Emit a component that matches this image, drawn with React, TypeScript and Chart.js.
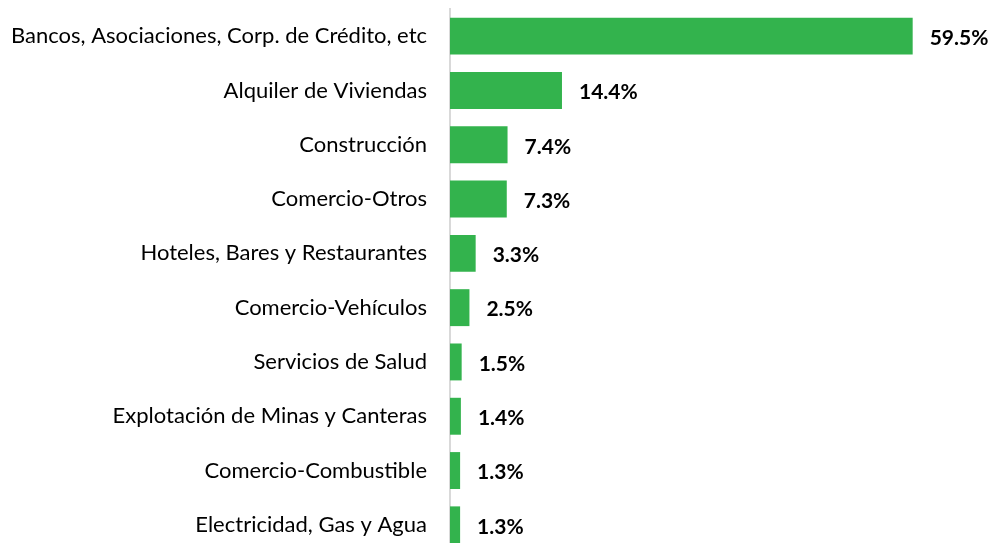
import React, { useEffect, useRef } from "react";
import { Chart, registerables } from "chart.js";

Chart.register(...registerables);

const categories = [
  "Bancos, Asociaciones, Corp. de Crédito, etc",
  "Alquiler de Viviendas",
  "Construcción",
  "Comercio-Otros",
  "Hoteles, Bares y Restaurantes",
  "Comercio-Vehículos",
  "Servicios de Salud",
  "Explotación de Minas y Canteras",
  "Comercio-Combustible",
  "Electricidad, Gas y Agua",
];
const values = [59.5, 14.4, 7.4, 7.3, 3.3, 2.5, 1.5, 1.4, 1.3, 1.3];
const valueLabels = ["59.5%", "14.4%", "7.4%", "7.3%", "3.3%", "2.5%", "1.5%", "1.4%", "1.3%", "1.3%"];

const FONT = "Lato, 'Open Sans', sans-serif";

const labelPlugin = {
  id: "valueLabels",
  afterDatasetsDraw(chart: any) {
    const ctx = chart.ctx;
    const meta = chart.getDatasetMeta(0);
    ctx.save();
    ctx.font = `bold 21px ${FONT}`;
    ctx.fillStyle = "#000000";
    ctx.textAlign = "left";
    ctx.textBaseline = "middle";
    meta.data.forEach((bar: any, i: number) => {
      ctx.fillText(valueLabels[i], bar.x + 17, bar.y + 2);
    });
    ctx.restore();
  },
};

export default function App() {
  const ref = useRef<HTMLCanvasElement | null>(null);
  useEffect(() => {
    document.body.style.margin = "0";
    document.body.style.overflow = "hidden";
    const chart = new Chart(ref.current!, {
      type: "bar",
      data: {
        labels: categories,
        datasets: [
          {
            data: values,
            backgroundColor: "#33B34D",
            barPercentage: 0.68,
            categoryPercentage: 1,
          },
        ],
      },
      options: {
        indexAxis: "y",
        animation: false,
        responsive: false,
        maintainAspectRatio: false,
        layout: { padding: { top: 0, right: 21, bottom: 0, left: 0 } },
        plugins: { legend: { display: false }, tooltip: { enabled: false } },
        scales: {
          x: {
            min: 0,
            max: 67,
            display: false,
          },
          y: {
            grid: {
              display: true,
              drawOnChartArea: false,
              drawTicks: true,
              tickLength: 23,
              color: "rgba(0,0,0,0)",
            },
            border: { display: true, color: "#D9D9D9", width: 2 },
            ticks: {
              color: "#000000",
              padding: 0,
              font: { family: FONT, size: 22, lineHeight: 1 },
            },
            afterFit(scale: any) {
              scale.width = 450;
            },
          },
        },
      },
      plugins: [labelPlugin],
    });
    return () => chart.destroy();
  }, []);
  return (
    <div style={{ width: 992, height: 543, overflow: "hidden", position: "relative" }}>
      <canvas ref={ref} width={992} height={565} style={{ display: "block", marginTop: -2 }} />
    </div>
  );
}
